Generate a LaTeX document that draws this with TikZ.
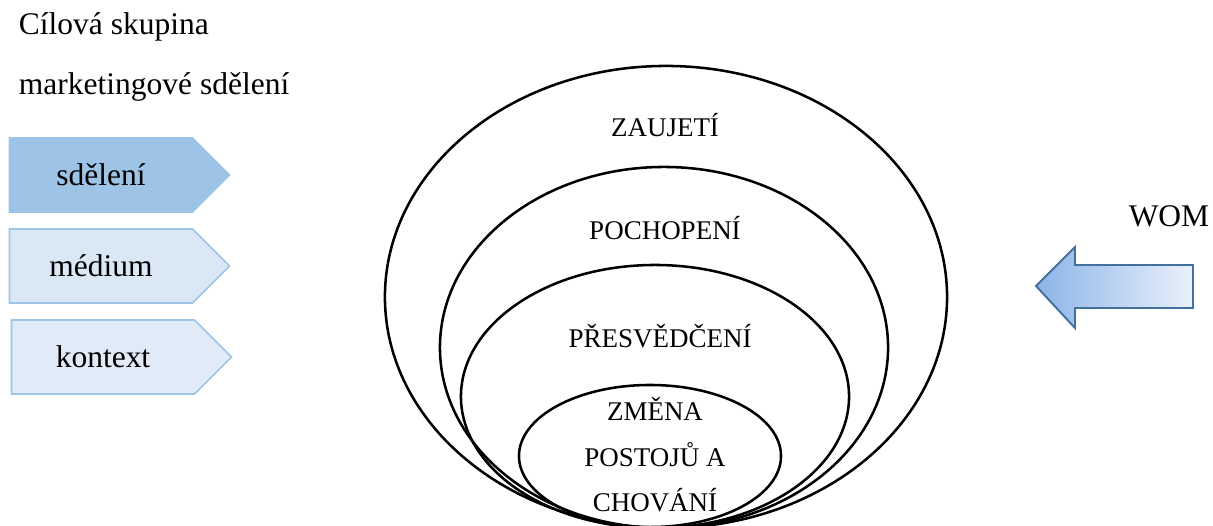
\documentclass[tikz,border=0pt]{standalone}
\usepackage{fontspec}
\setmainfont{Liberation Serif}
\usepackage{tikz}
\usetikzlibrary{positioning}
\usetikzlibrary{shapes.geometric}
\usetikzlibrary{shapes.symbols}

\definecolor{tagdark}{RGB}{157,195,230}
\definecolor{taglight}{RGB}{218,232,246}
\definecolor{womborder}{RGB}{65,113,156}
\definecolor{womleft}{RGB}{140,180,232}
\definecolor{womright}{RGB}{234,241,251}

\begin{document}
\begin{tikzpicture}[x=0.025cm, y=-0.025cm, font=\fontsize{19.2}{23}\selectfont,
		bigtext/.style={font=\fontsize{22.4}{27}\selectfont},
		tag/.style={signal, signal to=east, signal pointer angle=90, draw=tagdark, line width=1.2pt, minimum width=5.5cm, minimum height=1.85cm, inner sep=0pt, bigtext},
		ring/.style={draw, ellipse, line width=1.8pt, inner sep=0pt},
		womarrow/.style={draw=womborder, line width=1.4pt, left color=womleft, right color=womright}]
		\clip (0,0) rectangle (1213,526);
		\node[bigtext, anchor=west] (target) at (14,27) {Cílová skupina};
		\node[bigtext, anchor=west] (message) at (14,87) {marketingové sdělení};
		\node[tag, fill=tagdark] (sdeleni) at (101,175) {sdělení};
		\node[tag, fill=taglight] (medium) at (101,266) {médium};
		\node[tag, fill=taglight!85!white] (kontext) at (103,357) {kontext};
		\node[ring, minimum width=14.05cm, minimum height=11.55cm] (zaujeti) at (666,297) {};
		\node[ring, minimum width=11.2cm, minimum height=9.025cm] (pochopeni) at (664,347.5) {};
		\node[ring, minimum width=9.7cm, minimum height=6.575cm] (presvedceni) at (655,396.5) {};
		\node[ring, minimum width=6.55cm, minimum height=3.55cm] (zmena) at (650,456) {};
		\node (zaujetitext) at (665,125) {ZAUJETÍ};
		\node (pochopenitext) at (665,228) {POCHOPENÍ};
		\node (presvedcenitext) at (660,336) {PŘESVĚDČENÍ};
		\node[align=center] (zmenatext) at (655,455) {ZMĚNA\\[0.33cm]POSTOJŮ A\\[0.33cm]CHOVÁNÍ};
		\node[bigtext] (wom) at (1169,216) {WOM};
		\draw[womarrow] (1036,286) -- (1075,247) -- (1075,265) -- (1193,265) -- (1193,308) -- (1075,308) -- (1075,328) -- cycle;
	\end{tikzpicture}
\end{document}
